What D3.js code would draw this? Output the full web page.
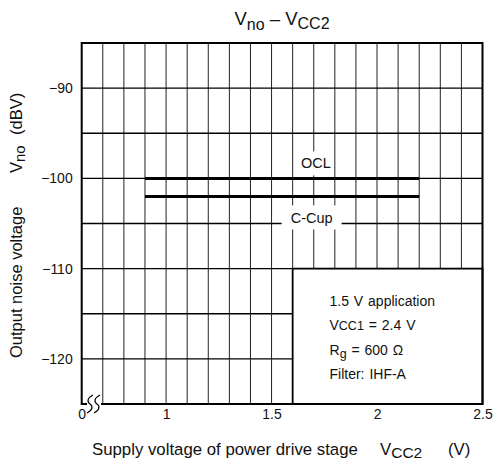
<!DOCTYPE html>
<html>
<head>
<meta charset="utf-8">
<script src="https://cdn.jsdelivr.net/npm/d3@7"></script>
<style>
  html, body { margin: 0; padding: 0; background: #fff; }
  svg { display: block; font-family: "Liberation Sans", Arial, Helvetica, sans-serif; }
</style>
</head>
<body>
<svg id="chart" width="498" height="469"></svg>
<script>
// ---- data ----
const xTickValues = [0.6, 1, 1.5, 2, 2.5];
const xTickLabels = ["0", "1", "1.5", "2", "2.5"];
const yTickValues = [-90, -100, -110, -120];
const yTickLabels = ["−90", "−100", "−110", "−120"];
const seriesNames = ["OCL", "C-Cup"];
const seriesX = [0.9, 2.2];
const seriesValues = [[-100, -100], [-102, -102]];
const legendLines = ["1.5 V application", "VCC1 = 2.4 V", "Rg = 600 Ω", "Filter: IHF-A"];

// ---- layout ----
const L = 81.7, R = 482.5, T = 43, B = 404;
const svg = d3.select("#chart");
const x = d3.scaleLinear().domain([0.6, 2.5]).range([L, R]);
const y = d3.scaleLinear().domain([-125, -85]).range([B, T]);

// grid
const vGrid = d3.range(7, 25).map(d => d / 10);
const hGrid = d3.range(-120, -85, 5);
const g = svg.append("g");
g.selectAll("line.v").data(vGrid).join("line")
  .attr("x1", d => x(d)).attr("x2", d => x(d)).attr("y1", T).attr("y2", B)
  .attr("stroke", "#222").attr("stroke-width", 1);
g.selectAll("line.h").data(hGrid).join("line")
  .attr("x1", L).attr("x2", R).attr("y1", d => y(d)).attr("y2", d => y(d))
  .attr("stroke", "#000").attr("stroke-width", 1.3);

// legend box (covers grid)
svg.append("rect")
  .attr("x", x(1.6)).attr("y", y(-110)).attr("width", x(2.5) - x(1.6)).attr("height", y(-125) - y(-110))
  .attr("fill", "#fff").attr("stroke", "#000").attr("stroke-width", 1.8);

const lg = svg.append("g").attr("font-size", 14).attr("fill", "#111").attr("word-spacing", 1);
const lx = 329.5, ly0 = 306, ldy = 24.3;
lg.append("text").attr("x", lx).attr("y", ly0).text(legendLines[0]);
{
  const t = lg.append("text").attr("x", lx).attr("y", ly0 + ldy);
  t.append("tspan").text("V");
  t.append("tspan").attr("font-size", 12.5).text("CC1");
  t.append("tspan").text(" = 2.4 V");
}
{
  const t = lg.append("text").attr("x", lx).attr("y", ly0 + 2 * ldy);
  t.append("tspan").text("R");
  t.append("tspan").attr("font-size", 12.5).attr("dy", 3).text("g");
  t.append("tspan").attr("dy", -3).text(" = 600 Ω");
}
lg.append("text").attr("x", lx).attr("y", ly0 + 3 * ldy).text(legendLines[3]);

// series label backgrounds + labels
const labelOffsets = [-15, 21];
const labelX = [1.71, 1.69];
const labelBoxW = [36, 60];
seriesNames.forEach((name, i) => {
  const cx = x(labelX[i]);
  const cy = y(seriesValues[i][0]) + labelOffsets[i];
  svg.append("rect").attr("x", cx - labelBoxW[i] / 2).attr("y", cy - 12).attr("width", labelBoxW[i]).attr("height", 24)
    .attr("fill", "#fff");
  svg.append("text").attr("x", cx).attr("y", cy).attr("dy", "0.35em").attr("text-anchor", "middle")
    .attr("font-size", 14.5).attr("fill", "#111").text(name);
});

// series lines
const line = d3.line().x(d => x(d[0])).y(d => y(d[1]));
seriesValues.forEach(vals => {
  svg.append("path").datum(seriesX.map((xv, j) => [xv, vals[j]]))
    .attr("d", line).attr("fill", "none").attr("stroke", "#000").attr("stroke-width", 3);
});

// frame
svg.append("rect").attr("x", L).attr("y", T).attr("width", R - L).attr("height", B - T)
  .attr("fill", "none").attr("stroke", "#000").attr("stroke-width", 2);

// axis break symbol
svg.append("rect").attr("x", 87).attr("y", 401).attr("width", 14).attr("height", 6).attr("fill", "#fff");
[90, 97].forEach(bx => {
  svg.append("path")
    .attr("d", `M${bx + 3},${B - 9} C${bx - 3},${B - 6} ${bx - 3},${B - 2} ${bx},${B} C${bx + 3},${B + 2} ${bx + 3},${B + 6} ${bx - 3},${B + 9}`)
    .attr("fill", "none").attr("stroke", "#000").attr("stroke-width", 1.2);
});

// axes
const xAxis = d3.axisBottom(x).tickValues(xTickValues).tickFormat((d, i) => xTickLabels[i]).tickSize(0).tickPadding(5);
const xa = svg.append("g").attr("transform", `translate(0,${B})`).call(xAxis);
const yAxis = d3.axisLeft(y).tickValues(yTickValues).tickFormat((d, i) => yTickLabels[i]).tickSize(0).tickPadding(9);
const ya = svg.append("g").attr("transform", `translate(${L},0)`).call(yAxis);
[xa, ya].forEach(a => {
  a.select(".domain").remove();
  a.selectAll("text").attr("font-size", 14).attr("font-family", "Liberation Sans, Arial, sans-serif").attr("fill", "#111");
});

// title
{
  const t = svg.append("text").attr("x", 282).attr("y", 25).attr("text-anchor", "middle").attr("font-size", 18.5).attr("fill", "#111");
  t.append("tspan").text("V");
  t.append("tspan").attr("font-size", 16).attr("dy", 5).text("no");
  t.append("tspan").attr("dy", -5).text(" – V");
  t.append("tspan").attr("font-size", 16).attr("dy", 4).text("CC2");
}

// x axis title
{
  const t = svg.append("text").attr("x", 92).attr("y", 455).attr("font-size", 16.8).attr("fill", "#111");
  t.append("tspan").text("Supply voltage of power drive stage");
  t.append("tspan").attr("x", 380).text("V");
  t.append("tspan").attr("font-size", 15.5).attr("dy", 3).text("CC2");
  t.append("tspan").attr("x", 448).attr("dy", -3).text("(V)");
}

// y axis title
{
  const t = svg.append("text").attr("transform", "translate(22,358) rotate(-90)").attr("font-size", 16.5).attr("fill", "#111");
  t.append("tspan").attr("x", 0).text("Output noise voltage");
  t.append("tspan").attr("x", 185).text("V");
  t.append("tspan").attr("font-size", 15).attr("dy", 3).text("no");
  t.append("tspan").attr("x", 223).attr("dy", -3).text("(dBV)");
}
</script>
</body>
</html>
